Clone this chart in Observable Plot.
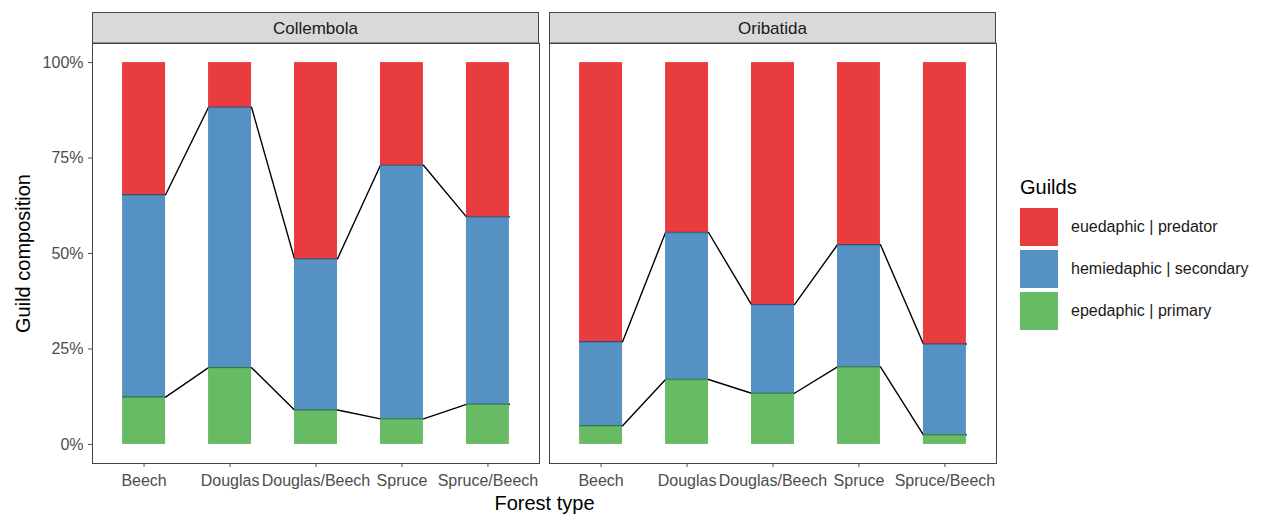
<!DOCTYPE html>
<html>
<head>
<meta charset="utf-8">
<script src="https://cdn.jsdelivr.net/npm/d3@7"></script>
<script src="https://cdn.jsdelivr.net/npm/@observablehq/plot@0.6"></script>
<style>
  html, body { margin: 0; padding: 0; background: #fff; }
  body { font-family: "Liberation Sans", Arial, Helvetica, sans-serif; }
  #wrap { position: relative; width: 1268px; height: 515px; }
  #chart { position: absolute; left: 0; top: 0; }
  #legend { position: absolute; left: 1020px; top: 174px; }
  #legend .title { font-size: 20px; color: #000; height: 30px; line-height: 26px; }
  #legend .row { display: flex; align-items: center; height: 38px; margin-top: 4px; }
  #legend .key { width: 38px; height: 38px; }
  #legend .lab { margin-left: 13px; font-size: 16px; color: #1a1a1a; }
</style>
</head>
<body>
<div id="wrap">
  <div id="chart"></div>
  <div id="legend"></div>
</div>
<script>
// ---- data (shares in %) ----
const taxa = ["Collembola", "Oribatida"];
const forests = ["Beech", "Douglas", "Douglas/Beech", "Spruce", "Spruce/Beech"];
const guilds = ["epedaphic | primary", "hemiedaphic | secondary", "euedaphic | predator"];
const colours = ["#4DAF4A", "#377EB8", "#E41A1C"];
const yTicks = [0, 0.25, 0.5, 0.75, 1];

const collembolaPrimary   = [12.4, 20.1,  9.0,  6.7, 10.5];
const collembolaSecondary = [53.0, 68.2, 39.6, 66.4, 49.1];
const collembolaPredator  = [34.6, 11.7, 51.4, 26.9, 40.4];

const oribatidaPrimary    = [ 4.9, 17.0, 13.4, 20.3,  2.5];
const oribatidaSecondary  = [22.0, 38.5, 23.2, 32.0, 23.8];
const oribatidaPredator   = [73.1, 44.5, 63.4, 47.7, 73.7];

const series = {
  Collembola: [collembolaPrimary, collembolaSecondary, collembolaPredator],
  Oribatida: [oribatidaPrimary, oribatidaSecondary, oribatidaPredator]
};

// long table for bars
const rows = [];
for (const t of taxa) {
  forests.forEach((f, i) => {
    guilds.forEach((g, k) => {
      rows.push({taxon: t, forest: f, i: i + 1, guild: g, value: series[t][k][i] / 100});
    });
  });
}

// boundary lines (top of primary, top of secondary) through the bar corners
const lineRows = [];
for (const t of taxa) {
  [0, 1].forEach(b => {
    forests.forEach((f, i) => {
      let cum = 0;
      for (let k = 0; k <= b; k++) cum += series[t][k][i] / 100;
      lineRows.push({taxon: t, boundary: b, x: i + 1 - 0.25, y: cum});
      lineRows.push({taxon: t, boundary: b, x: i + 1 + 0.25, y: cum});
    });
  });
}

const font = '"Liberation Sans", Arial, Helvetica, sans-serif';

const chart = Plot.plot({
  width: 1000,
  height: 515,
  marginLeft: 91,
  marginRight: 3,
  marginTop: 43,
  marginBottom: 52,
  style: {fontFamily: font, background: "#fff"},
  fx: {domain: taxa, padding: 0.0218, axis: null},
  x: {domain: [0.4, 5.6]},
  y: {domain: [-0.05, 1.05]},
  color: {domain: guilds, range: colours},
  marks: [
    Plot.line(lineRows, {x: "x", y: "y", z: "boundary", fx: "taxon", stroke: "#000", strokeWidth: 1.4}),
    Plot.rect(rows, Plot.stackY({
      x: "i", y: "value", fx: "taxon", fill: "guild", fillOpacity: 0.85,
      x1: d => d.i - 0.25, x2: d => d.i + 0.25
    })),
    Plot.frame({stroke: "#444", strokeWidth: 1}),
    Plot.axisY(yTicks, {
      tickFormat: d3.format(".0%"), tickSize: 4, tickPadding: 5,
      fontSize: 16, color: "#4d4d4d", label: null
    }),
    Plot.axisX([1, 2, 3, 4, 5], {
      tickFormat: i => forests[i - 1], tickSize: 4, tickPadding: 7,
      fontSize: 16, color: "#4d4d4d", label: null
    }),
    Plot.text(["Forest type"], {
      facet: "super", frameAnchor: "bottom", dy: 46, fontSize: 20, fill: "#000",
      textAnchor: "middle", text: d => d
    }),
    Plot.text(["Guild composition"], {
      facet: "super", frameAnchor: "left", dx: -69, rotate: -90, fontSize: 20, fill: "#000",
      textAnchor: "middle", text: d => d
    })
  ]
});

document.getElementById("chart").appendChild(chart);

// facet strips drawn from the fx scale
const fxs = chart.scale("fx");
const svg = d3.select(chart);
const strips = svg.append("g");
for (const t of taxa) {
  const x0 = fxs.apply(t);
  const w = fxs.bandwidth;
  strips.append("rect")
    .attr("x", x0 + 0.5).attr("y", 12.5)
    .attr("width", w - 1).attr("height", 30.5)
    .attr("fill", "#d9d9d9").attr("stroke", "#444").attr("stroke-width", 1);
  strips.append("text")
    .attr("x", x0 + w / 2).attr("y", 28)
    .attr("text-anchor", "middle").attr("dominant-baseline", "central")
    .attr("font-size", 17).attr("fill", "#1a1a1a").attr("font-family", font)
    .text(t);
}

// legend
const legend = d3.select("#legend");
legend.append("div").attr("class", "title").text("Guilds");
for (let k = guilds.length - 1; k >= 0; k--) {
  const c = d3.color(colours[k]); c.opacity = 0.85;
  const row = legend.append("div").attr("class", "row");
  row.append("div").attr("class", "key").style("background", c.formatRgb());
  row.append("div").attr("class", "lab").text(guilds[k]);
}
</script>
</body>
</html>
